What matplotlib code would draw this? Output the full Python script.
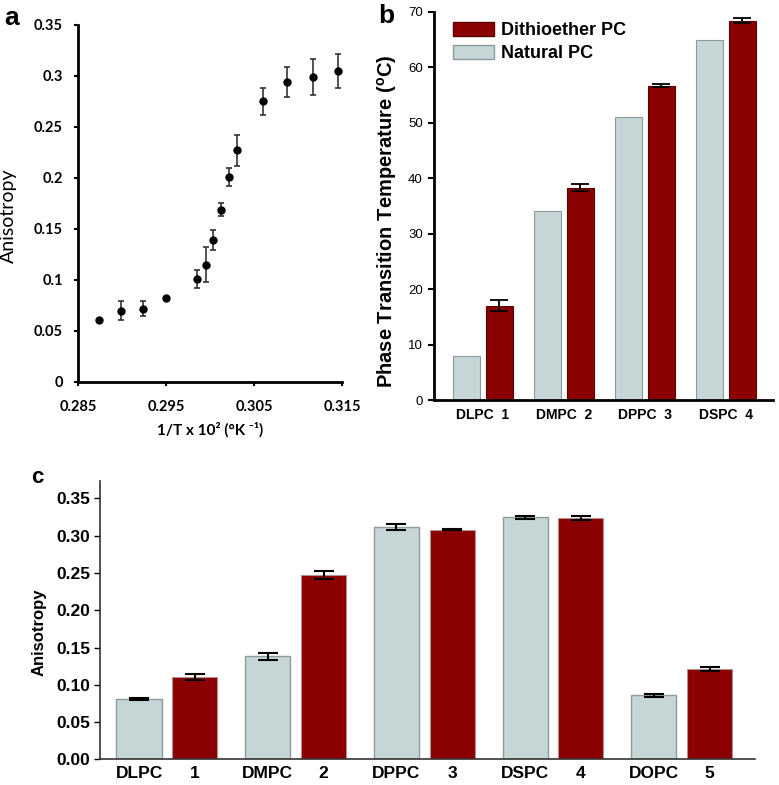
import numpy as np
import matplotlib
matplotlib.use("Agg")
import matplotlib.pyplot as plt
from matplotlib.patches import Patch
from matplotlib.ticker import FuncFormatter

# ==========================================
# DATA
# ==========================================
# panel a: anisotropy vs 1/T
inv_t = [0.2874, 0.2899, 0.2924, 0.2950, 0.2985, 0.2995, 0.3004, 0.3013,
         0.3022, 0.3031, 0.3060, 0.3088, 0.3117, 0.3146]
aniso_t = [0.061, 0.070, 0.072, 0.082, 0.101, 0.115, 0.139, 0.169,
           0.201, 0.227, 0.275, 0.294, 0.299, 0.305]
aniso_t_err = [0.0, 0.009, 0.007, 0.0, 0.009, 0.017, 0.010, 0.006,
               0.009, 0.015, 0.013, 0.015, 0.018, 0.017]

# panel b: phase transition temperature
b_groups = ["DLPC  1", "DMPC  2", "DPPC  3", "DSPC  4"]
tm_natural = [8, 34, 51, 65]
tm_dithio = [17, 38.3, 56.7, 68.4]
tm_dithio_err = [1.0, 0.6, 0.3, 0.5]

# panel c: anisotropy per lipid
c_natural_names = ["DLPC", "DMPC", "DPPC", "DSPC", "DOPC"]
c_dithio_names = ["1", "2", "3", "4", "5"]
an_natural = [0.081, 0.138, 0.311, 0.325, 0.086]
an_natural_err = [0.001, 0.005, 0.004, 0.002, 0.002]
an_dithio = [0.110, 0.247, 0.308, 0.324, 0.121]
an_dithio_err = [0.004, 0.005, 0.001, 0.003, 0.003]

RED = "#8b0000"
GREY = "#c6d6d6"
ARIAL = ["Liberation Sans", "DejaVu Sans"]
CALI = ["Lato", "DejaVu Sans"]

plt.rcParams["mathtext.fontset"] = "custom"
plt.rcParams["mathtext.rm"] = "Liberation Sans"
plt.rcParams["mathtext.bf"] = "Liberation Sans:bold"

fig = plt.figure(figsize=(7.79, 7.85), dpi=100)

# ==========================================
# PANEL A
# ==========================================
ax_a = fig.add_axes([0.1001, 0.5134, 0.3389, 0.4548])
ax_a.errorbar(inv_t, aniso_t, yerr=aniso_t_err, fmt="o", color="black",
              ecolor="#333333", markersize=5, elinewidth=1.2, capsize=2.5,
              capthick=1.2)
ax_a.set_xlim(0.285, 0.315)
ax_a.set_ylim(0, 0.35)
ax_a.set_xticks([0.285, 0.295, 0.305, 0.315])
ax_a.set_yticks(np.arange(0, 0.351, 0.05))
ax_a.xaxis.set_major_formatter(FuncFormatter(lambda v, p: f"{v:.3f}"))
ax_a.yaxis.set_major_formatter(FuncFormatter(lambda v, p: f"{v:.2f}".rstrip("0").rstrip(".") if v else "0"))
for s in ["top", "right"]:
    ax_a.spines[s].set_visible(False)
for s in ["left", "bottom"]:
    ax_a.spines[s].set_linewidth(2)
ax_a.tick_params(direction="out", length=3, width=1.5)
ax_a.tick_params(axis="y", pad=8)
ax_a.tick_params(axis="x", pad=10)
for lab in ax_a.get_xticklabels() + ax_a.get_yticklabels():
    lab.set_family(CALI)
    lab.set_fontweight("bold")
    lab.set_fontsize(10.5)
ax_a.set_ylabel("Anisotropy", family=CALI, fontsize=14)
ax_a.yaxis.set_label_coords(-0.231, 0.467)
ax_a.set_xlabel("1/T x 10² (°K ⁻¹)", family=CALI, fontweight="bold",
                fontsize=11, labelpad=6)

# ==========================================
# PANEL B
# ==========================================
ax_b = fig.add_axes([0.5571, 0.4904, 0.4352, 0.4946])
xb = np.arange(len(b_groups))
ax_b.bar(xb - 0.2, tm_natural, width=0.337, color=GREY, edgecolor="#8c9c9c",
         linewidth=0.8, label="Natural PC")
ax_b.bar(xb + 0.2, tm_dithio, width=0.337, color=RED, edgecolor="#5a0000",
         linewidth=0.8, label="Dithioether PC")
ax_b.errorbar(xb + 0.2, tm_dithio, yerr=tm_dithio_err, fmt="none",
              ecolor="black", elinewidth=1.3, capsize=6.5, capthick=1.3)
ax_b.set_xlim(-0.605, 3.58)
ax_b.set_ylim(0, 70)
ax_b.set_yticks(range(0, 71, 10))
ax_b.set_xticks(xb)
ax_b.set_xticklabels(b_groups, family=ARIAL, fontweight="bold", fontsize=10)
for lab in ax_b.get_yticklabels():
    lab.set_family(ARIAL)
    lab.set_fontsize(9.5)
for s in ["top", "right"]:
    ax_b.spines[s].set_visible(False)
for s in ["left", "bottom"]:
    ax_b.spines[s].set_linewidth(2)
ax_b.tick_params(axis="y", direction="out", length=4, width=1.5, pad=4)
ax_b.tick_params(axis="x", length=0, pad=6)
ax_b.set_ylabel(r"Phase Transition Temperature ($\mathbf{^o}$C)", family=ARIAL,
                fontweight="bold", fontsize=14.5)
ax_b.yaxis.set_label_coords(-0.103, 0.46)
handles = [Patch(facecolor=RED, edgecolor="#5a0000"),
           Patch(facecolor=GREY, edgecolor="#8c9c9c")]
ax_b.legend(handles, ["Dithioether PC", "Natural PC"], loc="upper left",
            bbox_to_anchor=(0.008, 1.015), frameon=False, handlelength=2.3,
            handleheight=0.8, handletextpad=0.35, labelspacing=0.3,
            prop={"family": ARIAL, "weight": "bold", "size": 13})

# ==========================================
# PANEL C
# ==========================================
ax_c = fig.add_axes([0.1284, 0.0327, 0.8404, 0.3549])
xc = np.arange(len(c_natural_names))
ax_c.bar(xc - 0.217, an_natural, width=0.35, color=GREY, edgecolor="#8c9c9c",
         linewidth=1.0)
ax_c.bar(xc + 0.217, an_dithio, width=0.35, color=RED, edgecolor="#b09090",
         linewidth=0.8)
ax_c.errorbar(xc - 0.217, an_natural, yerr=an_natural_err, fmt="none",
              ecolor="black", elinewidth=1.5, capsize=7, capthick=1.5)
ax_c.errorbar(xc + 0.217, an_dithio, yerr=an_dithio_err, fmt="none",
              ecolor="black", elinewidth=1.5, capsize=7, capthick=1.5)
ax_c.set_xlim(-0.52, 4.567)
ax_c.set_ylim(0, 0.3737)
ax_c.set_yticks(np.arange(0, 0.351, 0.05))
ax_c.yaxis.set_major_formatter(FuncFormatter(lambda v, p: f"{v:.2f}"))
ticks_c = np.concatenate([xc - 0.217, xc + 0.217])
ax_c.set_xticks(ticks_c)
ax_c.set_xticklabels(c_natural_names + c_dithio_names)
for lab in ax_c.get_xticklabels() + ax_c.get_yticklabels():
    lab.set_family(ARIAL)
    lab.set_fontweight("bold")
    lab.set_fontsize(12.5)
for s in ["top", "right"]:
    ax_c.spines[s].set_visible(False)
for s in ["left", "bottom"]:
    ax_c.spines[s].set_linewidth(1.2)
    ax_c.spines[s].set_color("#333333")
ax_c.tick_params(axis="y", direction="out", length=4, width=1, pad=3)
ax_c.tick_params(axis="x", length=0, pad=5)
ax_c.set_ylabel("Anisotropy", family=ARIAL, fontweight="bold", fontsize=12)
ax_c.yaxis.set_label_coords(-0.081, 0.455)

# panel letters
fig.text(0.006, 0.992, "a", family=ARIAL, fontweight="bold", fontsize=19,
         va="top", ha="left")
fig.text(0.486, 0.995, "b", family=ARIAL, fontweight="bold", fontsize=19,
         va="top", ha="left")
fig.text(0.040, 0.405, "c", family=ARIAL, fontweight="bold", fontsize=16,
         va="top", ha="left")

fig.savefig("out.png", dpi=100)
